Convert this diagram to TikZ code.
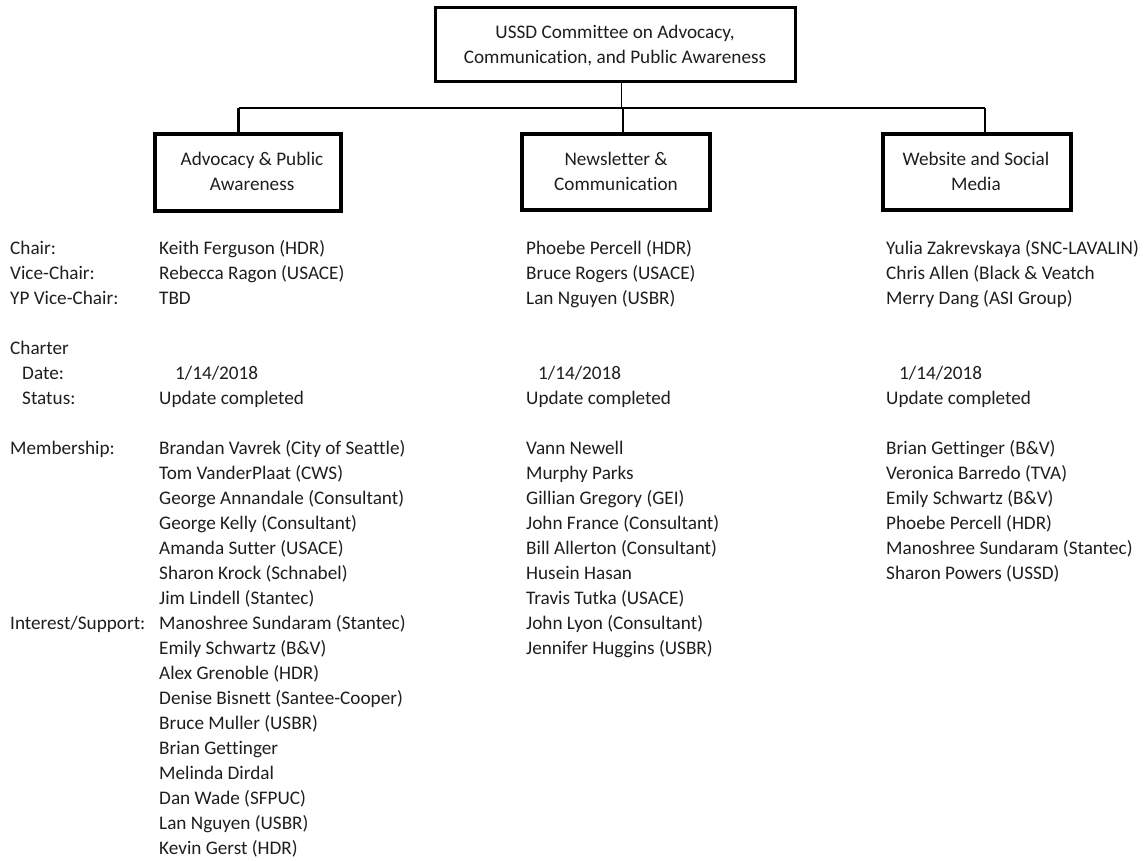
\documentclass[tikz,border=0pt]{standalone}
\usepackage{fontspec}
\setmainfont{Carlito}[Ligatures={NoCommon,NoContextual}]
\definecolor{ink}{HTML}{1E1E1E}
\begin{document}
\begin{tikzpicture}[x=1pt,y=-1pt,
  txt/.style={anchor=base west,inner sep=0pt,font=\fontsize{19.2}{25}\selectfont,text=ink},
  ctxt/.style={anchor=base,inner sep=0pt,font=\fontsize{19.2}{25}\selectfont,text=ink},
  topbox/.style={draw=black,line width=2.5pt,fill=white},
  subbox/.style={draw=black,line width=4pt,fill=white},
  thin/.style={draw=black,line width=1.4pt},
  thick/.style={draw=black,line width=2.4pt}]
\useasboundingbox (0,0) rectangle (1148,860);
% boxes
\draw[topbox] (435.3,7.3) rectangle (795.5,81.7);
\draw[subbox] (155.3,133.7) rectangle (340.5,211);
\draw[subbox] (522,133.7) rectangle (709.7,210);
\draw[subbox] (882.7,133.7) rectangle (1071,210);
\node[ctxt] (t1) at (615,38) {USSD Committee on Advocacy,};
\node[ctxt] (t2) at (615,63) {Communication, and Public Awareness};
\node[ctxt] (a1) at (252,165) {Advocacy \& Public};
\node[ctxt] (a2) at (252,190) {Awareness};
\node[ctxt] (n1) at (616,165) {Newsletter \&};
\node[ctxt] (n2) at (616,190) {Communication};
\node[ctxt] (w1) at (976,165) {Website and Social};
\node[ctxt] (w2) at (976,190) {Media};
% connectors
\coordinate (topb) at (621.7,82.9);
\coordinate (bus) at (621.7,108);
\coordinate (busL) at (238.5,108);
\coordinate (busR) at (985,108);
\coordinate (lt) at (238.5,131.7);
\coordinate (mt) at (622.7,131.7);
\coordinate (rt) at (985,131.7);
\draw[thin] (topb) -- (bus);
\draw[thin] (busL) -- (busR);
\draw[thick] (busL) -- (lt);
\draw[thick] (622.7,108) -- (mt);
\draw[thick] (busR) -- (rt);
% labels
\node[txt] (l1) at (10,254) {Chair:};
\node[txt] (l2) at (10,279) {Vice-Chair:};
\node[txt] (l3) at (10,304) {YP Vice-Chair:};
\node[txt] (l4) at (10,354) {Charter};
\node[txt] (l5) at (22,379) {Date:};
\node[txt] (l6) at (22,404) {Status:};
\node[txt] (l7) at (10,454) {Membership:};
\node[txt] (l8) at (10,629) {Interest/Support:};
% left column
\node[txt] (c1a) at (159,254) {Keith Ferguson (HDR)};
\node[txt] (c1b) at (159,279) {Rebecca Ragon (USACE)};
\node[txt] (c1c) at (159,304) {TBD};
\node[txt] (c1d) at (175,379) {1/14/2018};
\node[txt] (c1e) at (159,404) {Update completed};
\node[txt] (m1) at (159,454) {Brandan Vavrek (City of Seattle)};
\node[txt] (m2) at (159,479) {Tom VanderPlaat (CWS)};
\node[txt] (m3) at (159,504) {George Annandale (Consultant)};
\node[txt] (m4) at (159,529) {George Kelly (Consultant)};
\node[txt] (m5) at (159,554) {Amanda Sutter (USACE)};
\node[txt] (m6) at (159,579) {Sharon Krock (Schnabel)};
\node[txt] (m7) at (159,604) {Jim Lindell (Stantec)};
\node[txt] (s1) at (159,629) {Manoshree Sundaram (Stantec)};
\node[txt] (s2) at (159,654) {Emily Schwartz (B\&V)};
\node[txt] (s3) at (159,679) {Alex Grenoble (HDR)};
\node[txt] (s4) at (159,704) {Denise Bisnett (Santee-Cooper)};
\node[txt] (s5) at (159,729) {Bruce Muller (USBR)};
\node[txt] (s6) at (159,754) {Brian Gettinger};
\node[txt] (s7) at (159,779) {Melinda Dirdal};
\node[txt] (s8) at (159,804) {Dan Wade (SFPUC)};
\node[txt] (s9) at (159,829) {Lan Nguyen (USBR)};
\node[txt] (s10) at (159,854) {Kevin Gerst (HDR)};
% middle column
\node[txt] (c2a) at (526,254) {Phoebe Percell (HDR)};
\node[txt] (c2b) at (526,279) {Bruce Rogers (USACE)};
\node[txt] (c2c) at (526,304) {Lan Nguyen (USBR)};
\node[txt] (c2d) at (538,379) {1/14/2018};
\node[txt] (c2e) at (526,404) {Update completed};
\node[txt] (p1) at (526,454) {Vann Newell};
\node[txt] (p2) at (526,479) {Murphy Parks};
\node[txt] (p3) at (526,504) {Gillian Gregory (GEI)};
\node[txt] (p4) at (526,529) {John France (Consultant)};
\node[txt] (p5) at (526,554) {Bill Allerton (Consultant)};
\node[txt] (p6) at (526,579) {Husein Hasan};
\node[txt] (p7) at (526,604) {Travis Tutka (USACE)};
\node[txt] (p8) at (526,629) {John Lyon (Consultant)};
\node[txt] (p9) at (526,654) {Jennifer Huggins (USBR)};
% right column
\node[txt] (c3a) at (886,254) {Yulia Zakrevskaya (SNC-LAVALIN)};
\node[txt] (c3b) at (886,279) {Chris Allen (Black \& Veatch};
\node[txt] (c3c) at (886,304) {Merry Dang (ASI Group)};
\node[txt] (c3d) at (899,379) {1/14/2018};
\node[txt] (c3e) at (886,404) {Update completed};
\node[txt] (r1) at (886,454) {Brian Gettinger (B\&V)};
\node[txt] (r2) at (886,479) {Veronica Barredo (TVA)};
\node[txt] (r3) at (886,504) {Emily Schwartz (B\&V)};
\node[txt] (r4) at (886,529) {Phoebe Percell (HDR)};
\node[txt] (r5) at (886,554) {Manoshree Sundaram (Stantec)};
\node[txt] (r6) at (886,579) {Sharon Powers (USSD)};
\end{tikzpicture}
\end{document}
